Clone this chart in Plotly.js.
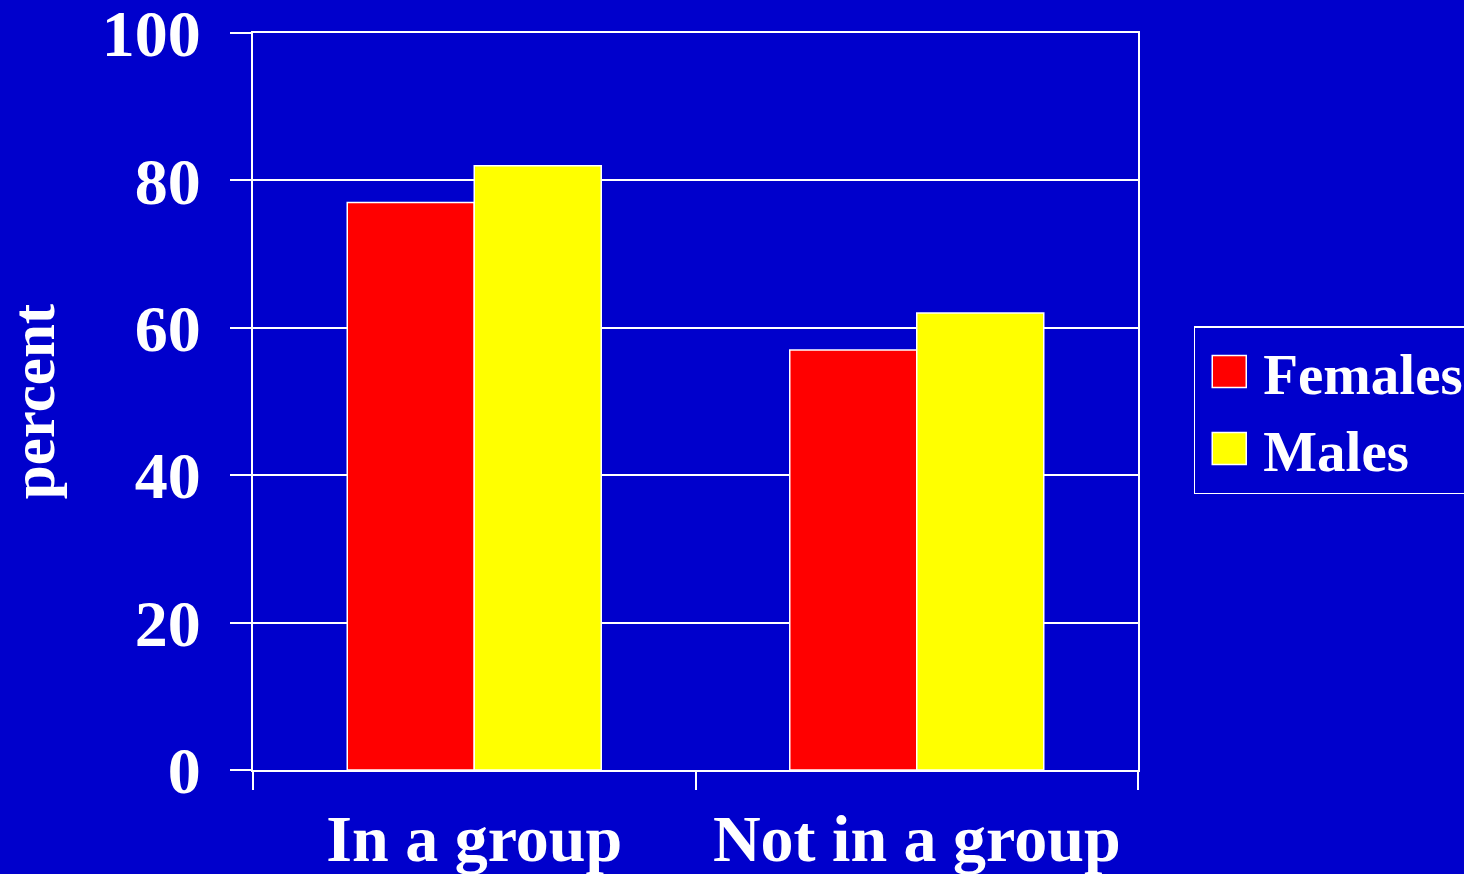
<!DOCTYPE html>
<html>
<head>
<meta charset="utf-8">
<script src="https://cdn.plot.ly/plotly-3.0.1.min.js"></script>
<style>
  html, body { margin: 0; padding: 0; background: #0000CC; }
  #chart { width: 1464px; height: 874px; }
</style>
</head>
<body>
<div id="chart"></div>
<script>
const categories = ["In a group", "Not in a group"];
const seriesNames = ["Females", "Males"];
const femalesValues = [77, 57];
const malesValues = [82, 62];
const yTickValues = [0, 20, 40, 60, 80, 100];
const yTickLabels = ["0", "20", "40", "60", "80", "100"];

const FONT = '"Liberation Serif", "Times New Roman", serif';
const BG = '#0000CC';

const traces = [
  {
    type: 'bar', name: seriesNames[0], x: categories, y: femalesValues,
    marker: { color: '#FF0000', line: { color: '#FFFFFF', width: 1.5 } },
    hoverinfo: 'x+y+name'
  },
  {
    type: 'bar', name: seriesNames[1], x: categories, y: malesValues,
    marker: { color: '#FFFF00', line: { color: '#FFFFFF', width: 1.5 } },
    hoverinfo: 'x+y+name'
  }
];

const layout = {
  width: 1464, height: 874,
  paper_bgcolor: BG, plot_bgcolor: BG,
  margin: { l: 253, r: 326, t: 33, b: 104, pad: 0, autoexpand: false },
  font: { family: FONT, color: '#FFFFFF', size: 56, weight: 'bold' },
  barmode: 'group', bargap: 0.426, bargroupgap: 0,
  showlegend: true,
  legend: {
    x: 1.063, xanchor: 'left', y: 0.488, yanchor: 'middle',
    bgcolor: BG, bordercolor: '#FFFFFF', borderwidth: 1.5,
    font: { family: FONT, size: 57, color: '#FFFFFF', weight: 'bold' },
    tracegroupgap: 0, itemwidth: 58, entrywidth: 300
  },
  xaxis: {
    type: 'category',
    tickson: 'boundaries',
    ticks: 'outside', ticklen: 18, tickwidth: 2, tickcolor: '#FFFFFF',
    showline: true, linecolor: '#FFFFFF', linewidth: 2, mirror: true,
    showgrid: false,
    tickfont: { family: FONT, size: 66, color: '#FFFFFF', weight: 'bold' },
    ticklabelstandoff: 10,
    fixedrange: true
  },
  yaxis: {
    range: [0, 100],
    tickvals: yTickValues, ticktext: yTickLabels,
    ticks: 'outside', ticklen: 21, tickwidth: 2, tickcolor: '#FFFFFF',
    showline: true, linecolor: '#FFFFFF', linewidth: 2, mirror: true,
    showgrid: true, gridcolor: '#FFFFFF', gridwidth: 2,
    zeroline: false,
    ticklabeloverflow: 'allow',
    tickfont: { family: FONT, size: 66, color: '#FFFFFF', weight: 'bold' },
    ticklabelstandoff: 16,
    title: { text: 'percent', standoff: 33, font: { family: FONT, size: 61, color: '#FFFFFF', weight: 'bold' } },
    fixedrange: true
  }
};

function enlargeLegendSymbols() {
  document.querySelectorAll('#chart .legend .legendpoints path').forEach(p => {
    p.setAttribute('d', 'M17,16H-17V-16H17Z');
    p.style.strokeWidth = '1.5px';
    p.style.stroke = '#FFFFFF';
  });
}

Plotly.newPlot('chart', traces, layout, { displayModeBar: false }).then(gd => {
  enlargeLegendSymbols();
  gd.on('plotly_afterplot', enlargeLegendSymbols);
});
</script>
</body>
</html>
